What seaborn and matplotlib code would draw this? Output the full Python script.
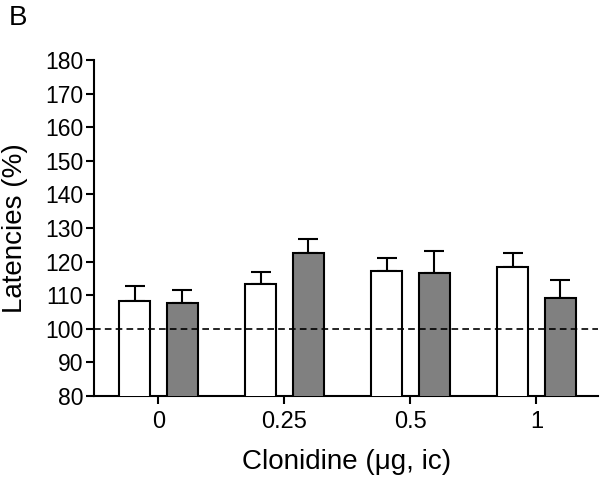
import matplotlib
matplotlib.use("Agg")
import matplotlib.pyplot as plt
import seaborn as sns
import pandas as pd
import numpy as np

doses = ["0", "0.25", "0.5", "1"]
groups = ["A", "B"]
white_means = [108.3, 113.3, 117.3, 118.5]
white_sem = [4.3, 3.5, 3.9, 4.2]
gray_means = [107.6, 122.6, 116.7, 109.3]
gray_sem = [4.1, 4.1, 6.5, 5.3]

sns.set_style("ticks")
plt.rcParams['font.family'] = ['Liberation Sans', 'DejaVu Sans']
plt.rcParams.update({"text.color": "black", "axes.labelcolor": "black",
                     "xtick.color": "black", "ytick.color": "black"})

df = pd.DataFrame({
    "dose": doses * 2,
    "group": [groups[0]] * 4 + [groups[1]] * 4,
    "value": white_means + gray_means,
})
errs = {groups[0]: white_sem, groups[1]: gray_sem}

fig = plt.figure(figsize=(6.0, 4.78), dpi=100)
ax = fig.add_axes([0.157, 0.1715, 0.84, 0.703])

sns.barplot(data=df, x="dose", y="value", hue="group", order=doses,
            hue_order=groups, palette=["white", "#808080"], width=0.76,
            gap=0.35, errorbar=None, edgecolor="black", linewidth=1.5,
            legend=False, ax=ax, zorder=3)

for container, g in zip(ax.containers, groups):
    xs = [p.get_x() + p.get_width() / 2 for p in container.patches]
    hs = [p.get_height() for p in container.patches]
    e = np.array(errs[g])
    ax.errorbar(xs, hs, yerr=[np.zeros_like(e), e], fmt="none",
                ecolor="black", elinewidth=1.5, capsize=7, capthick=1.5,
                zorder=2)

ax.axhline(100, color="black", linestyle=(0, (4, 2.5)), linewidth=1.2, zorder=4)

ax.set_ylim(80, 180)
ax.set_yticks(np.arange(80, 181, 10))
ax.set_xlim(-0.51, 3.49)
sns.despine(ax=ax)
for s in ["left", "bottom"]:
    ax.spines[s].set_linewidth(1.5)
    ax.spines[s].set_color("black")
ax.tick_params(axis="y", length=6, width=1.5, labelsize=16.5, pad=2)
ax.tick_params(axis="x", length=6, width=1.5, labelsize=17, pad=5)
ax.set_xlabel("Clonidine (\u03bcg, ic)", fontsize=20, labelpad=11)
ax.set_ylabel("Latencies (%)", fontsize=20, labelpad=12)
fig.text(0.014, 0.99, "B", fontsize=20, va="top", ha="left")

fig.savefig("out.png", dpi=100, facecolor="white")
